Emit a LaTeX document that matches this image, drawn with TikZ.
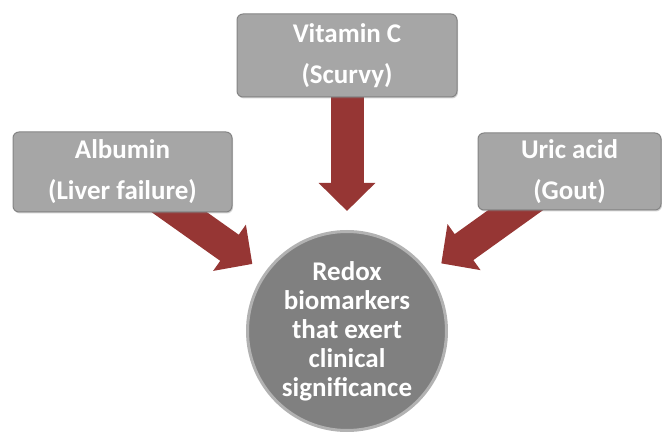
\documentclass[tikz,border=0pt]{standalone}
\usepackage{fontspec}
\setmainfont{Carlito}
\usetikzlibrary{arrows.meta, backgrounds, shadows}

\definecolor{boxgray}{RGB}{166,166,166}
\definecolor{boxedge}{RGB}{132,132,132}
\definecolor{discgray}{RGB}{128,128,128}
\definecolor{discrim}{RGB}{178,178,178}
\definecolor{arrowred}{RGB}{150,54,52}

\begin{document}
\begin{tikzpicture}[x=1pt,y=-1pt,>=stealth,
    marker/.style={rectangle, rounded corners=6pt, fill=boxgray, draw=boxedge, line width=1pt,
        drop shadow={opacity=0.35, shadow xshift=1pt, shadow yshift=-1.5pt},
        text=white, font=\bfseries\fontsize{27}{41}\selectfont, align=center, inner sep=0pt},
    hub/.style={circle, fill=discgray, draw=discrim, line width=3pt, minimum size=199pt, inner sep=0pt,
        text=white, font=\bfseries\fontsize{27}{29}\selectfont, align=center},
    feed/.style={line width=32pt, arrowred, -{Triangle[length=28pt,width=55pt]}}]
    \useasboundingbox (0,0) rectangle (662,433);

    % source boxes
    \node[marker, minimum width=220pt, minimum height=83pt] (vitc) at (347,55.5) {Vitamin C\\(Scurvy)};
    \node[marker, minimum width=219pt, minimum height=80pt] (albumin) at (122.5,172) {Albumin\\(Liver failure)};
    \node[marker, minimum width=183pt, minimum height=77pt] (uric) at (569.5,171.5) {Uric acid\\(Gout)};

    % central disc
    \node[hub] (redox) at (347,331) {Redox\\biomarkers\\that exert\\clinical\\significance};

    % arrows behind the boxes
    \begin{scope}[on background layer]
        \draw[feed, line width=33pt, shorten >=19pt] (vitc.center) -- (redox);
        \draw[feed, shorten >=15pt] (albumin.center) -- (redox);
        \draw[feed, shorten >=15pt] (uric.center) -- (redox);
    \end{scope}
\end{tikzpicture}
\end{document}
